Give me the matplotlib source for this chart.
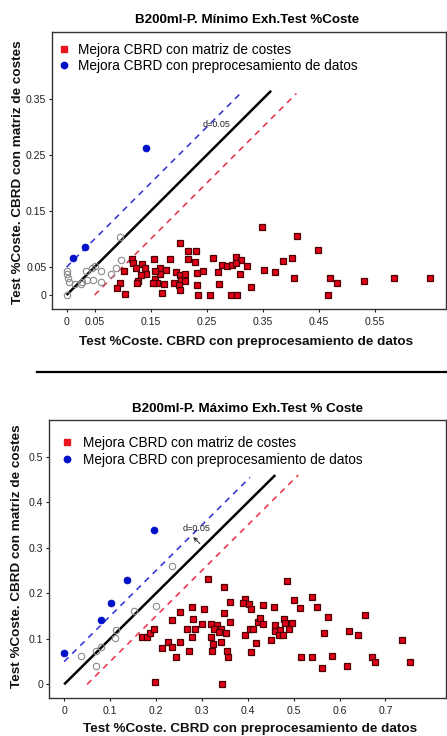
import matplotlib
matplotlib.use("Agg")
import matplotlib.pyplot as plt
from matplotlib.lines import Line2D

plt.rcParams['font.family'] = ['Liberation Sans', 'DejaVu Sans']

# ---------------- data: top panel (Mínimo) ----------------
top_red_x = [0.348, 0.411, 0.448, 0.203, 0.216, 0.231, 0.116, 0.118, 0.135, 0.124, 0.140, 0.156,
             0.185, 0.166, 0.178, 0.217, 0.230, 0.261, 0.278, 0.286, 0.295, 0.303, 0.311, 0.302,
             0.322, 0.387, 0.402, 0.352, 0.372, 0.103, 0.141, 0.133, 0.127, 0.125, 0.096, 0.090,
             0.105, 0.158, 0.161, 0.155, 0.167, 0.173, 0.171, 0.196, 0.191, 0.202, 0.204, 0.200,
             0.202, 0.212, 0.211, 0.233, 0.244, 0.232, 0.234, 0.256, 0.270, 0.272, 0.294, 0.304,
             0.309, 0.329, 0.405, 0.470, 0.483, 0.466, 0.530, 0.584, 0.649, 0.157]
top_red_y = [0.121, 0.105, 0.080, 0.093, 0.079, 0.079, 0.065, 0.058, 0.055, 0.049, 0.049, 0.065,
             0.065, 0.049, 0.044, 0.065, 0.059, 0.067, 0.054, 0.051, 0.054, 0.068, 0.063, 0.058,
             0.052, 0.060, 0.067, 0.045, 0.041, 0.043, 0.038, 0.035, 0.025, 0.021, 0.021, 0.013,
             0.002, 0.029, 0.021, 0.021, 0.037, 0.019, 0.004, 0.041, 0.022, 0.036, 0.027, 0.017,
             0.009, 0.038, 0.025, 0.039, 0.043, 0.018, 0.000, 0.000, 0.041, 0.020, 0.000, 0.000,
             0.037, 0.015, 0.030, 0.030, 0.021, 0.000, 0.025, 0.030, 0.030, 0.043]
top_blue_x = [0.011, 0.033, 0.141]
top_blue_y = [0.067, 0.085, 0.263]
top_grey_x = [0.000, 0.000, 0.000, 0.002, 0.005, 0.015, 0.026, 0.027, 0.034, 0.036, 0.048,
              0.051, 0.061, 0.061, 0.079, 0.089, 0.098, 0.095, 0.045]
top_grey_y = [0.000, 0.043, 0.037, 0.030, 0.023, 0.020, 0.020, 0.024, 0.043, 0.027, 0.027,
              0.051, 0.043, 0.024, 0.037, 0.048, 0.062, 0.104, 0.048]
top_xticks = [0, 0.05, 0.15, 0.25, 0.35, 0.45, 0.55]
top_yticks = [0, 0.05, 0.15, 0.25, 0.35]
top_xticklabels = ["0", "0.05", "0.15", "0.25", "0.35", "0.45", "0.55"]
top_yticklabels = ["0", "0.05", "0.15", "0.25", "0.35"]

# ---------------- data: bottom panel (Máximo) ----------------
bot_red_x = [0.169, 0.181, 0.187, 0.195, 0.197, 0.213, 0.226, 0.236, 0.243, 0.236, 0.253, 0.253,
             0.273, 0.267, 0.278, 0.280, 0.285, 0.279,
             0.314, 0.349, 0.362, 0.304, 0.349, 0.361, 0.301, 0.320, 0.333, 0.327, 0.341, 0.338,
             0.353, 0.320, 0.342, 0.324, 0.323, 0.354, 0.358, 0.344,
             0.394, 0.389, 0.402, 0.407, 0.433, 0.458, 0.485, 0.501, 0.513, 0.394, 0.405, 0.411,
             0.417, 0.407, 0.450, 0.422, 0.427, 0.434, 0.460, 0.460, 0.471, 0.468, 0.476,
             0.478, 0.481, 0.490, 0.496, 0.516, 0.541,
             0.540, 0.551, 0.575, 0.656, 0.566, 0.620, 0.641, 0.736, 0.583, 0.561, 0.617,
             0.670, 0.678, 0.754]
bot_red_y = [0.105, 0.105, 0.113, 0.122, 0.006, 0.079, 0.094, 0.081, 0.061, 0.141, 0.160, 0.094,
             0.073, 0.122, 0.171, 0.143, 0.122, 0.105,
             0.231, 0.215, 0.180, 0.166, 0.156, 0.138, 0.132, 0.132, 0.130, 0.122, 0.122, 0.116,
             0.112, 0.105, 0.093, 0.089, 0.073, 0.074, 0.061, 0.001,
             0.187, 0.179, 0.176, 0.165, 0.174, 0.171, 0.228, 0.185, 0.167, 0.108, 0.122, 0.122,
             0.091, 0.072, 0.097, 0.138, 0.145, 0.133, 0.130, 0.117, 0.119, 0.108, 0.108,
             0.143, 0.134, 0.122, 0.135, 0.061, 0.061,
             0.193, 0.171, 0.147, 0.152, 0.113, 0.118, 0.108, 0.097, 0.063, 0.036, 0.041,
             0.061, 0.049, 0.050]
bot_blue_x = [0.000, 0.080, 0.103, 0.137, 0.195]
bot_blue_y = [0.070, 0.141, 0.178, 0.229, 0.339]
bot_grey_x = [0.036, 0.069, 0.069, 0.080, 0.110, 0.113, 0.153, 0.200, 0.236]
bot_grey_y = [0.062, 0.040, 0.073, 0.081, 0.102, 0.119, 0.161, 0.173, 0.260]
bot_xticks = [0, 0.1, 0.2, 0.3, 0.4, 0.5, 0.6, 0.7]
bot_yticks = [0, 0.1, 0.2, 0.3, 0.4, 0.5]
bot_xticklabels = ["0", "0.1", "0.2", "0.3", "0.4", "0.5", "0.6", "0.7"]
bot_yticklabels = ["0", "0.1", "0.2", "0.3", "0.4", "0.5"]

d = 0.05
top_line_ends = {"black": (0.0, 0.365), "blue": (0.0, 0.31), "red": (0.05, 0.41)}
bot_line_ends = {"black": (0.0, 0.46), "blue": (0.0, 0.405), "red": (0.05, 0.51)}

titles = ["B200ml-P. Mínimo Exh.Test %Coste", "B200ml-P. Máximo Exh.Test % Coste"]
xlabel = "Test %Coste. CBRD con preprocesamiento de datos"
ylabel = "Test %Coste. CBRD con matriz de costes"
leg_labels = ["Mejora CBRD con matriz de costes", "Mejora CBRD con preprocesamiento de datos"]

# ---------------- styling ----------------
W, H = 447, 736
DPI = 100
RED_FILL = "#e0001a"
RED_EDGE = "#4a0000"
BLUE = "#0010c8"
GREY = "#8a8a8a"
DASH_BLUE = "#3a3ad8"
DASH_RED = "#e83a50"

fig = plt.figure(figsize=(W / DPI, H / DPI), dpi=DPI)

def px_ax(l, t, r, b):
    return [l / W, 1 - b / H, (r - l) / W, (b - t) / H]

ax1 = fig.add_axes(px_ax(52, 32, 446, 309))
ax2 = fig.add_axes(px_ax(49, 420, 446, 698))


def draw_panel(ax, rx, ry, bx, by, gx, gy, ends, xlim, ylim,
               xt, xtl, yt, ytl):
    # reference lines
    x0, x1 = ends["black"]
    ax.plot([x0, x1], [x0, x1], color="black", lw=1.8, zorder=2, solid_capstyle="butt")
    x0, x1 = ends["blue"]
    ax.plot([x0, x1], [x0 + d, x1 + d], color=DASH_BLUE, lw=1.2, dashes=(3.6, 3.2), zorder=2)
    x0, x1 = ends["red"]
    ax.plot([x0, x1], [x0 - d, x1 - d], color=DASH_RED, lw=1.2, dashes=(3.6, 3.2), zorder=2)
    # points
    ax.plot(gx, gy, linestyle="none", marker="o", ms=4.6, mfc="none", mec=GREY, mew=0.8, zorder=3)
    ax.plot(rx, ry, linestyle="none", marker="s", ms=4.5, mfc=RED_FILL, mec=RED_EDGE, mew=0.9, zorder=4)
    ax.plot(bx, by, linestyle="none", marker="o", ms=5.0, mfc=BLUE, mec=BLUE, mew=0.5, zorder=4)
    ax.set_xlim(*xlim)
    ax.set_ylim(*ylim)
    ax.set_xticks(xt)
    ax.set_xticklabels(xtl)
    ax.set_yticks(yt)
    ax.set_yticklabels(ytl)
    ax.tick_params(labelsize=7.6, length=2.5, width=0.8, pad=1.5, colors="#222222")
    ax.tick_params(axis="x", pad=3)
    for s in ax.spines.values():
        s.set_color("#333333")
        s.set_linewidth(1.0)


draw_panel(ax1, top_red_x, top_red_y, top_blue_x, top_blue_y, top_grey_x, top_grey_y,
           top_line_ends, (-0.026, 0.677), (-0.025, 0.470),
           top_xticks, top_xticklabels, top_yticks, top_yticklabels)
draw_panel(ax2, bot_red_x, bot_red_y, bot_blue_x, bot_blue_y, bot_grey_x, bot_grey_y,
           bot_line_ends, (-0.033, 0.832), (-0.030, 0.581),
           bot_xticks, bot_xticklabels, bot_yticks, bot_yticklabels)

# d annotations
ax1.text(0.268, 0.305, "d=0.05", fontsize=6.5, ha="center", va="center", color="#222222", zorder=5)
ax2.annotate("", xy=(0.277, 0.328), xytext=(0.300, 0.305),
             arrowprops=dict(arrowstyle="->", lw=0.7, color="#222222", mutation_scale=6), zorder=5)
ax2.text(0.289, 0.343, "d=0.05", fontsize=6.5, ha="center", va="center", color="#222222", zorder=5)

# legends
handles = [Line2D([], [], linestyle="none", marker="s", ms=4.3, mfc="#e8141e", mec="#e8141e"),
           Line2D([], [], linestyle="none", marker="o", ms=4.6, mfc=BLUE, mec=BLUE)]
ax1.legend(handles, leg_labels, loc="upper left", bbox_to_anchor=(0.0168, 0.9596),
           frameon=False, fontsize=9.8, borderpad=0, borderaxespad=0,
           handlelength=0.8, handletextpad=0.62, labelspacing=0.1)
ax2.legend(handles, leg_labels, loc="upper left", bbox_to_anchor=(0.031, 0.9417),
           frameon=False, fontsize=9.8, borderpad=0, borderaxespad=0,
           handlelength=0.8, handletextpad=0.78, labelspacing=0.18)

# titles and axis labels in pixel positions
def ftext(x, y, s, **kw):
    fig.text(x / W, 1 - y / H, s, **kw)

ftext(247, 20, titles[0], ha="center", va="center", fontsize=9.6, fontweight="bold")
ftext(247, 409, titles[1], ha="center", va="center", fontsize=9.6, fontweight="bold")
ftext(246, 342, xlabel, ha="center", va="center", fontsize=9.7, fontweight="bold", color="#111111")
ftext(250, 729, xlabel, ha="center", va="center", fontsize=9.7, fontweight="bold", color="#111111")
ftext(18, 172, ylabel, ha="center", va="center", rotation=90, fontsize=9.7, fontweight="bold", color="#111111")
ftext(17, 556, ylabel, ha="center", va="center", rotation=90, fontsize=9.7, fontweight="bold", color="#111111")

# separator line between the two panels
fig.add_artist(Line2D([37 / W, 1.0], [1 - 372 / H, 1 - 372 / H], color="black", lw=1.6))

fig.savefig("out.png", dpi=DPI)
